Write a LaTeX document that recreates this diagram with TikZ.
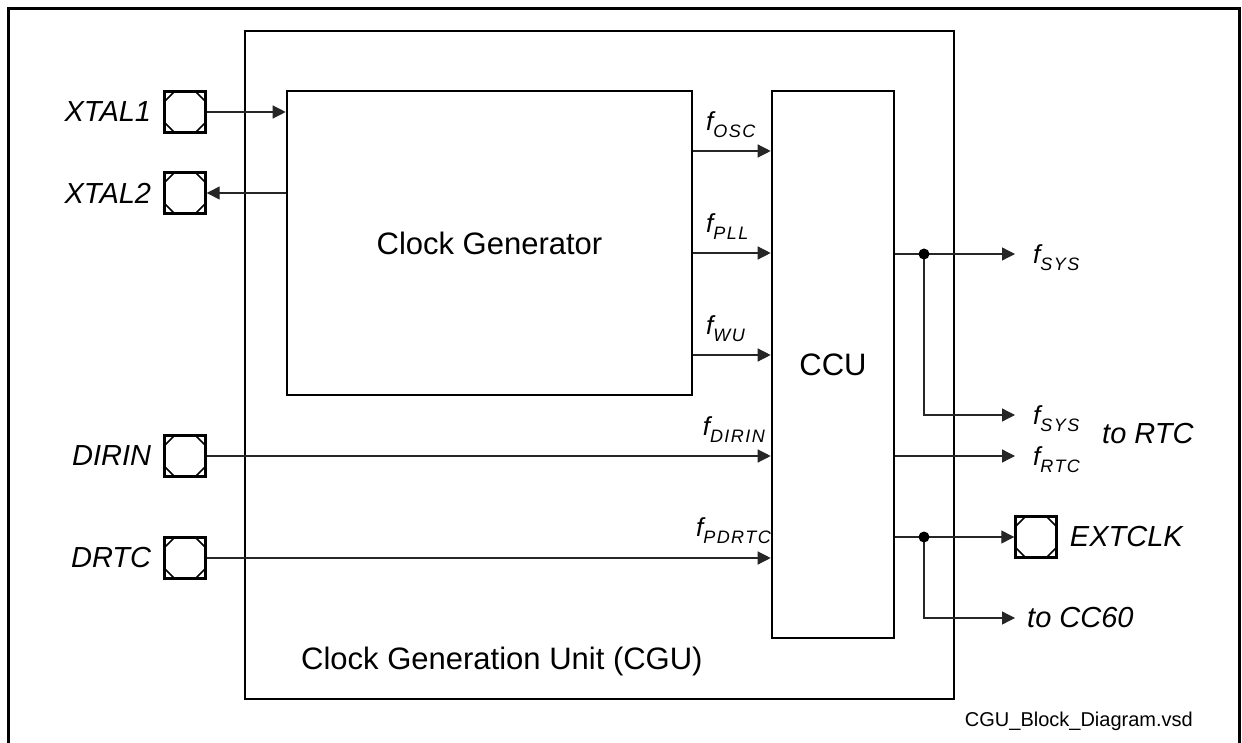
\documentclass[tikz,border=0pt]{standalone}
\usepackage{fontspec}
\setmainfont{Liberation Sans}
\newfontfamily\subfont[LetterSpace=8]{Liberation Sans}
\usepackage{tikz}
\usetikzlibrary{arrows.meta,positioning}

% f with a lowered, spaced subscript
\newcommand{\fsig}[1]{{\fontsize{26}{28}\selectfont\itshape f}\raisebox{-7pt}{\subfont\fontsize{18}{18}\selectfont\itshape #1}}

\begin{document}
\begin{tikzpicture}[x=1pt,y=-1pt,
  box/.style={draw,line width=2.6pt,inner sep=0pt},
  pin/.style={draw,line width=2.4pt,minimum size=41pt,inner sep=0pt,
    path picture={
      \draw[line width=1.6pt] ([yshift=-10pt]path picture bounding box.north west) -- ([xshift=10pt]path picture bounding box.north west);
      \draw[line width=1.6pt] ([yshift=-10pt]path picture bounding box.north east) -- ([xshift=-10pt]path picture bounding box.north east);
      \draw[line width=1.6pt] ([yshift=10pt]path picture bounding box.south west) -- ([xshift=10pt]path picture bounding box.south west);
      \draw[line width=1.6pt] ([yshift=10pt]path picture bounding box.south east) -- ([xshift=-10pt]path picture bounding box.south east);
    }},
  wire/.style={line width=1.3pt,black!85},
  sig/.style={wire,-{Triangle[length=13pt,width=13pt]}},
  big/.style={font=\fontsize{31}{34}\selectfont,inner sep=0pt},
  pinlbl/.style={font=\fontsize{29}{32}\selectfont\itshape,inner sep=0pt},
  flbl/.style={inner sep=0pt}]
  \useasboundingbox (0,0) rectangle (1242,743);
  % outer frame, open at the bottom
  \draw[line width=3pt] (8,760) -- (8,9) -- (1239,9) -- (1239,760);

  % blocks
  \node[box,minimum width=709pt,minimum height=668pt] (cgu) at (599.5,365) {};
  \node[box,minimum width=405pt,minimum height=304pt,big] (clkgen) at (489.5,243) {Clock Generator};
  \node[box,minimum width=122pt,minimum height=547pt,big] (ccu) at (833,364.5) {CCU};
  \node[big,anchor=base west] (cgulbl) at (301,669) {Clock Generation Unit (CGU)};

  % pins
  \node[pin] (xtal1) at (185,112) {};
  \node[pin] (xtal2) at (185,193) {};
  \node[pin] (dirin) at (185,456) {};
  \node[pin] (drtc) at (185,558) {};
  \node[pin] (extclk) at (1036,537) {};
  \node[pinlbl,left=12pt of xtal1] (xtal1lbl) {XTAL1};
  \node[pinlbl,left=12pt of xtal2] (xtal2lbl) {XTAL2};
  \node[pinlbl,left=12pt of dirin] (dirinlbl) {DIRIN};
  \node[pinlbl,left=12pt of drtc] (drtclbl) {DRTC};
  \node[pinlbl,right=12pt of extclk] (extclklbl) {EXTCLK};

  % oscillator pins
  \draw[sig] (xtal1.east) -- (xtal1.east -| clkgen.west);
  \draw[sig] (xtal2.east -| clkgen.west) -- (xtal2.east);

  % clock sources into CCU
  \draw[sig] (clkgen.east |- 0,151) -- (ccu.west |- 0,151);
  \draw[sig] (clkgen.east |- 0,253) -- (ccu.west |- 0,253);
  \draw[sig] (clkgen.east |- 0,355) -- (ccu.west |- 0,355);
  \draw[sig] (dirin.east) -- (dirin.east -| ccu.west);
  \draw[sig] (drtc.east) -- (drtc.east -| ccu.west);
  \node[flbl,anchor=south west] (osclbl) at (706,138) {\fsig{OSC}};
  \node[flbl,anchor=south west] (plllbl) at (706,240) {\fsig{PLL}};
  \node[flbl,anchor=south west] (wulbl) at (706,342) {\fsig{WU}};
  \node[flbl,anchor=south east] (dirinf) at (765,443) {\fsig{DIRIN}};
  \node[flbl,anchor=south east] (pdrtcf) at (771,544) {\fsig{PDRTC}};

  % CCU outputs
  \coordinate (sysout) at (1015,254);
  \coordinate (rtcsys) at (1015,415);
  \coordinate (rtcout) at (1015,456);
  \coordinate (ccout) at (1015,618);
  \coordinate (sysdot) at (924,254);
  \coordinate (extdot) at (924,537);
  \draw[sig] (ccu.east |- sysout) -- (sysout);
  \draw[sig] (sysdot) |- (rtcsys);
  \draw[sig] (ccu.east |- rtcout) -- (rtcout);
  \draw[sig] (ccu.east |- extclk.west) -- (extclk.west);
  \draw[sig] (extdot) |- (ccout);
  \fill (sysdot) circle (5.5pt);
  \fill (extdot) circle (5.5pt);
  \node[flbl,anchor=west] (syslbl) at (1033,258) {\fsig{SYS}};
  \node[flbl,anchor=west] (sys2lbl) at (1033,419) {\fsig{SYS}};
  \node[flbl,anchor=west] (rtclbl) at (1033,460) {\fsig{RTC}};
  \node[pinlbl,anchor=west] (tortc) at (1102,434) {to RTC};
  \node[pinlbl,anchor=west] (tocc) at (1027,618) {to CC60};

  \node[inner sep=0pt,anchor=base east,font=\fontsize{20}{22}\selectfont] (fname) at (1193,726) {CGU\_Block\_Diagram.vsd};
\end{tikzpicture}
\end{document}
